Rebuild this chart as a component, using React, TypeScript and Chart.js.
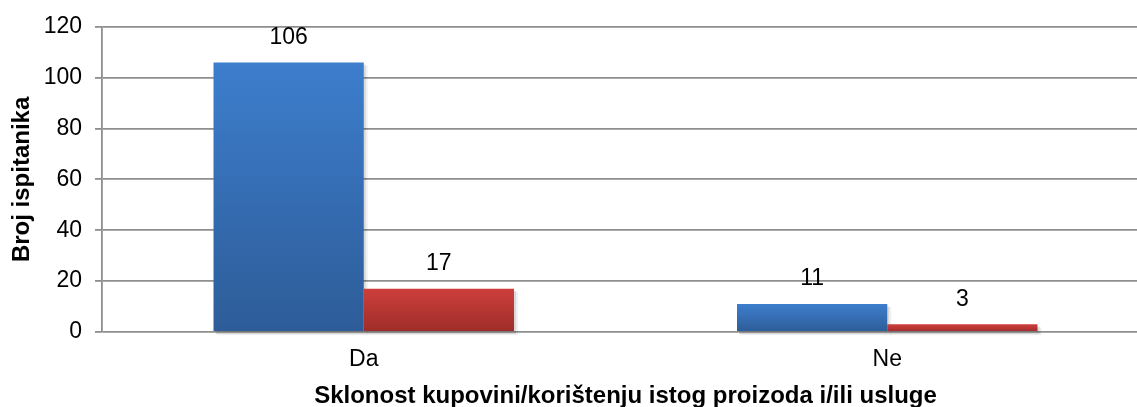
import React, { useEffect, useRef } from "react";
import { Chart, registerables } from "chart.js";

Chart.register(...registerables);

const categories = ["Da", "Ne"];
const seriesBlue = [106, 11];
const seriesRed = [17, 3];
const yTicks = [0, 20, 40, 60, 80, 100, 120];
const yTitle = "Broj ispitanika";
const xTitle = "Sklonost kupovini/korištenju istog proizoda i/ili usluge";

const FONT = "'Liberation Sans', Arial, sans-serif";

function barGradient(top: string, bottom: string) {
  return (ctx: any) => {
    const chart = ctx.chart;
    const y = chart.scales?.y;
    if (!y || ctx.raw === undefined) return top;
    const y0 = y.getPixelForValue(0);
    const y1 = y.getPixelForValue(ctx.raw);
    if (!isFinite(y0) || !isFinite(y1) || y0 === y1) return top;
    const g = chart.ctx.createLinearGradient(0, y1, 0, y0);
    g.addColorStop(0, top);
    g.addColorStop(1, bottom);
    return g;
  };
}

const valueLabels = {
  id: "valueLabels",
  afterDatasetsDraw(chart: any) {
    const { ctx } = chart;
    ctx.save();
    ctx.font = `23px ${FONT}`;
    ctx.fillStyle = "#000";
    ctx.textAlign = "center";
    ctx.textBaseline = "middle";
    chart.data.datasets.forEach((ds: any, i: number) => {
      const meta = chart.getDatasetMeta(i);
      meta.data.forEach((bar: any, j: number) => {
        ctx.fillText(String(ds.data[j]), bar.x, bar.y - 25);
      });
    });
    ctx.restore();
  },
};

const barShadow = {
  id: "barShadow",
  beforeDatasetsDraw(chart: any) {
    const { ctx } = chart;
    ctx.save();
    chart.data.datasets.forEach((_ds: any, i: number) => {
      const meta = chart.getDatasetMeta(i);
      meta.data.forEach((bar: any) => {
        const w = bar.width;
        const left = bar.x - w / 2;
        const h = bar.base - bar.y;
        ctx.fillStyle = "rgba(0,0,0,0.10)";
        ctx.fillRect(left + 2, bar.y + 2, w, h + 1);
        ctx.fillStyle = "rgba(0,0,0,0.06)";
        ctx.fillRect(left + 3, bar.y + 3, w + 1, h + 1);
      });
    });
    ctx.restore();
  },
};

export default function App() {
  const ref = useRef<HTMLCanvasElement | null>(null);

  useEffect(() => {
    if (!ref.current) return;
    const chart = new Chart(ref.current, {
      type: "bar",
      data: {
        labels: categories,
        datasets: [
          {
            label: "A",
            data: seriesBlue,
            backgroundColor: barGradient("#3D7ECD", "#2D5C98"),
            borderWidth: 0,
            categoryPercentage: 0.574,
            barPercentage: 1,
          },
          {
            label: "B",
            data: seriesRed,
            backgroundColor: barGradient("#CD3F3B", "#9E2C2A"),
            borderWidth: 0,
            categoryPercentage: 0.574,
            barPercentage: 1,
          },
        ],
      },
      options: {
        animation: false,
        responsive: false,
        maintainAspectRatio: false,
        layout: { padding: { top: 26, left: 0, right: 0, bottom: 0 } },
        plugins: {
          legend: { display: false },
          tooltip: { enabled: false },
        },
        scales: {
          x: {
            grid: { display: false, drawTicks: false },
            border: { display: false },
            ticks: {
              color: "#000",
              font: { family: FONT, size: 23 },
              padding: 14,
            },
            title: {
              display: true,
              text: xTitle,
              color: "#000",
              font: { family: FONT, size: 24, weight: "bold" },
              padding: { top: 0, bottom: -4 },
            },
            afterFit(scale: any) {
              scale.height = 75;
            },
          },
          y: {
            min: 0,
            max: 120,
            afterBuildTicks(scale: any) {
              scale.ticks = yTicks.map((v) => ({ value: v }));
            },
            grid: {
              color: "#8E8E8E",
              lineWidth: 1.8,
              tickLength: 7,
              tickColor: "#8E8E8E",
            },
            border: { display: true, color: "#8E8E8E", width: 1.8 },
            ticks: {
              color: "#000",
              font: { family: FONT, size: 23 },
              padding: 13,
            },
            title: {
              display: true,
              text: yTitle,
              color: "#000",
              font: { family: FONT, size: 24, weight: "bold" },
              padding: { top: 8, bottom: 0 },
            },
            afterFit(scale: any) {
              scale.width = 102;
            },
          },
        },
      },
      plugins: [barShadow, valueLabels],
    });
    return () => chart.destroy();
  }, []);

  return (
    <div
      style={{
        position: "fixed",
        left: 0,
        top: 0,
        width: 1137,
        height: 407,
        overflow: "hidden",
        background: "#fff",
      }}
    >
      <canvas ref={ref} width={1149} height={407} style={{ display: "block" }} />
    </div>
  );
}
